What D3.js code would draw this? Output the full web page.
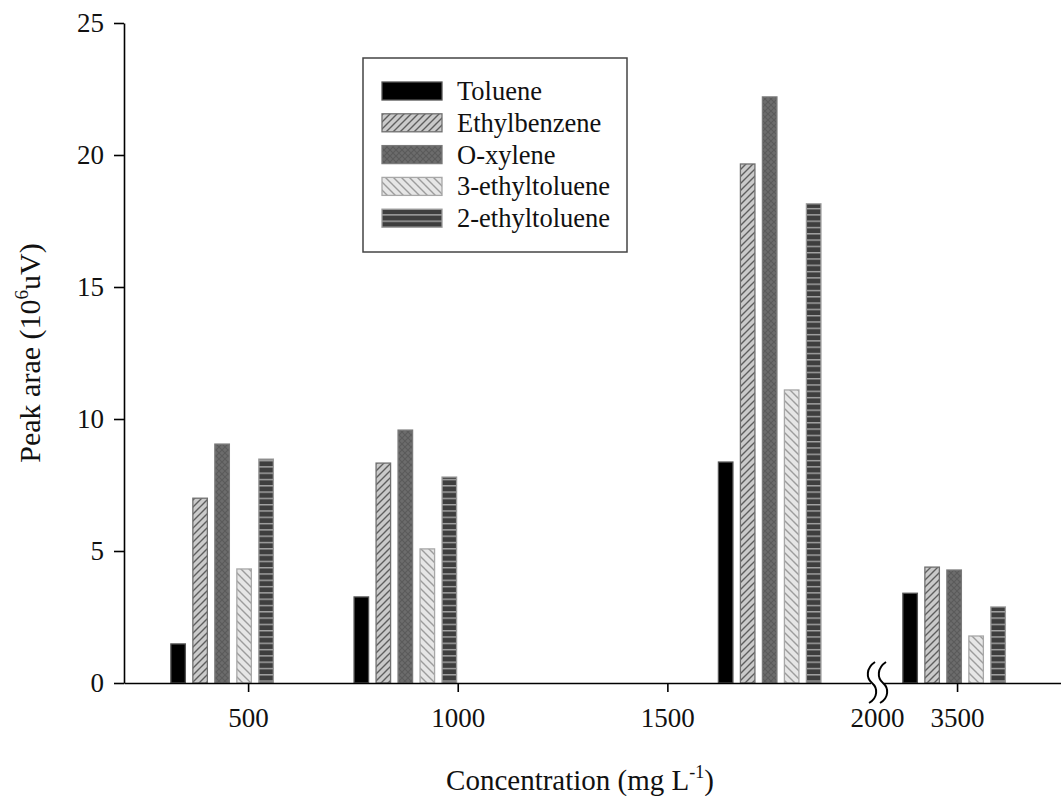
<!DOCTYPE html>
<html>
<head>
<meta charset="utf-8">
<script src="https://cdn.jsdelivr.net/npm/d3@7"></script>
<style>
  body { margin: 0; background: #fff; }
  svg { display: block; font-family: "Liberation Serif", "Times New Roman", serif; }
</style>
</head>
<body>
<div id="chart"></div>
<script>
// data
const concentrations = [500, 1000, 1500, 3500]
const groupX = [438, 875, 1744, 3493]        // where each group sits on the x axis
const seriesNames = ["Toluene", "Ethylbenzene", "O-xylene", "3-ethyltoluene", "2-ethyltoluene"]
const toluene       = [1.48, 3.26, 8.37, 3.40]
const ethylbenzene  = [7.00, 8.33, 19.66, 4.39]
const oXylene       = [9.05, 9.58, 22.20, 4.28]
const ethyltoluene3 = [4.32, 5.08, 11.10, 1.78]
const ethyltoluene2 = [8.48, 7.80, 18.15, 2.88]
const xTicks = [500, 1000, 1500, 2000, 3500]
const yTicks = [0, 5, 10, 15, 20, 25]

const seriesValues = [toluene, ethylbenzene, oXylene, ethyltoluene3, ethyltoluene2]
const fills = ["#000", "url(#p-eb)", "url(#p-ox)", "url(#p-3et)", "url(#p-2et)"]
const borders = ["#555", "#707070", "#7a7a7a", "#a8a8a8", "#9a9a9a"]

const width = 1061, height = 796
const svg = d3.select("#chart").append("svg")
  .attr("width", width)
  .attr("height", height)

// patterns for the hatched bars
const defs = svg.append("defs")
const pEb = defs.append("pattern").attr("id", "p-eb").attr("patternUnits", "userSpaceOnUse")
  .attr("width", 7).attr("height", 7)
pEb.append("rect").attr("width", 7).attr("height", 7).attr("fill", "#cacaca")
pEb.append("path").attr("d", "M-1,1 l2,-2 M0,7 l7,-7 M6,8 l2,-2")
  .attr("stroke", "#5e5e5e").attr("stroke-width", 1.4)

const pOx = defs.append("pattern").attr("id", "p-ox").attr("patternUnits", "userSpaceOnUse")
  .attr("width", 6).attr("height", 6)
pOx.append("rect").attr("width", 6).attr("height", 6).attr("fill", "#6c6c6c")
pOx.append("path").attr("d", "M0,0 L6,6 M6,0 L0,6")
  .attr("stroke", "#5a5a5a").attr("stroke-width", 1.2)

const p3 = defs.append("pattern").attr("id", "p-3et").attr("patternUnits", "userSpaceOnUse")
  .attr("width", 8).attr("height", 8)
p3.append("rect").attr("width", 8).attr("height", 8).attr("fill", "#e6e6e6")
p3.append("path").attr("d", "M-1,-1 l2,2 M0,0 l8,8 M7,-1 l2,2 M-1,7 l2,2")
  .attr("stroke", "#9c9c9c").attr("stroke-width", 1.4)

const p2 = defs.append("pattern").attr("id", "p-2et").attr("patternUnits", "userSpaceOnUse")
  .attr("width", 6).attr("height", 6.3)
p2.append("rect").attr("width", 6).attr("height", 6.3).attr("fill", "#3e3e3e")
p2.append("rect").attr("y", 0).attr("width", 6).attr("height", 1.4).attr("fill", "#a5a5a5")

// scales: the x axis is broken between 2000 and 3500
const xScale = d3.scaleLinear()
  .domain([204, 2000, 3309, 3748])
  .range([124, 877, 877, 1061])
const yScale = d3.scaleLinear()
  .domain([0, 25])
  .range([683, 23])
const offset = d3.scaleBand()
  .domain(d3.range(seriesNames.length))
  .range([-55, 55])
  .paddingInner(0.34)
  .paddingOuter(0.17)

// bars
seriesValues.forEach((vals, s) => {
  svg.append("g").selectAll("rect")
    .data(vals)
    .join("rect")
    .attr("x", (d, i) => xScale(groupX[i]) + offset(s))
    .attr("y", d => yScale(d))
    .attr("width", offset.bandwidth())
    .attr("height", d => yScale(0) - yScale(d))
    .attr("fill", fills[s])
    .attr("stroke", borders[s])
    .attr("stroke-width", 1.3)
})

// axes
const xAxis = d3.axisBottom(xScale)
  .tickValues(xTicks)
  .tickFormat(d3.format("d"))
  .tickSize(9)
  .tickSizeOuter(0)
  .tickPadding(16)
const gx = svg.append("g")
  .attr("transform", "translate(0," + yScale(0) + ")")
  .call(xAxis)
gx.select(".domain").attr("stroke-width", 1.6)
gx.selectAll(".tick line").attr("stroke-width", 1.6)
gx.selectAll(".tick text")
  .attr("font-family", "Liberation Serif")
  .attr("font-size", 27)
  .attr("fill", "#111")

const yAxis = d3.axisLeft(yScale)
  .tickValues(yTicks)
  .tickSize(10)
  .tickSizeOuter(0)
  .tickPadding(10)
const gy = svg.append("g")
  .attr("transform", "translate(124,0)")
  .call(yAxis)
gy.select(".domain").attr("stroke-width", 1.6)
gy.selectAll(".tick line").attr("stroke-width", 1.6)
gy.selectAll(".tick text")
  .attr("font-family", "Liberation Serif")
  .attr("font-size", 27)
  .attr("fill", "#111")

// axis break marks at 2000
const bx = xScale(2000)
svg.append("rect")
  .attr("x", bx - 6).attr("y", yScale(0) - 2)
  .attr("width", 13).attr("height", 13)
  .attr("fill", "#fff")
;[bx - 5, bx + 6].forEach(cx => {
  svg.append("path")
    .attr("d", `M${cx + 3},662 C${cx - 6},668 ${cx - 6},678 ${cx},683 C${cx + 6},688 ${cx + 6},698 ${cx - 3},703`)
    .attr("fill", "none")
    .attr("stroke", "#000")
    .attr("stroke-width", 2)
})

// axis titles
svg.append("text")
  .attr("x", 580).attr("y", 790)
  .attr("text-anchor", "middle")
  .attr("font-size", 29)
  .attr("fill", "#111")
  .html('Concentration (mg L<tspan font-size="18" dy="-12">-1</tspan><tspan dy="12">)</tspan>')

svg.append("text")
  .attr("transform", "translate(40,353) rotate(-90)")
  .attr("text-anchor", "middle")
  .attr("font-size", 30)
  .attr("fill", "#111")
  .html('Peak arae (10<tspan font-size="19" dy="-12">6</tspan><tspan dy="12">uV)</tspan>')

// legend
const legend = svg.append("g")
legend.append("rect")
  .attr("x", 363).attr("y", 58)
  .attr("width", 264).attr("height", 194)
  .attr("fill", "#fff")
  .attr("stroke", "#444")
  .attr("stroke-width", 1.5)
seriesNames.forEach((name, s) => {
  const cy = 91 + s * 31.8
  legend.append("rect")
    .attr("x", 382).attr("y", cy - 9)
    .attr("width", 60).attr("height", 18)
    .attr("fill", fills[s])
    .attr("stroke", borders[s])
    .attr("stroke-width", 1.3)
  legend.append("text")
    .attr("x", 457).attr("y", cy + 9)
    .attr("font-size", 26.5)
    .attr("fill", "#111")
    .text(name)
})
</script>
</body>
</html>
